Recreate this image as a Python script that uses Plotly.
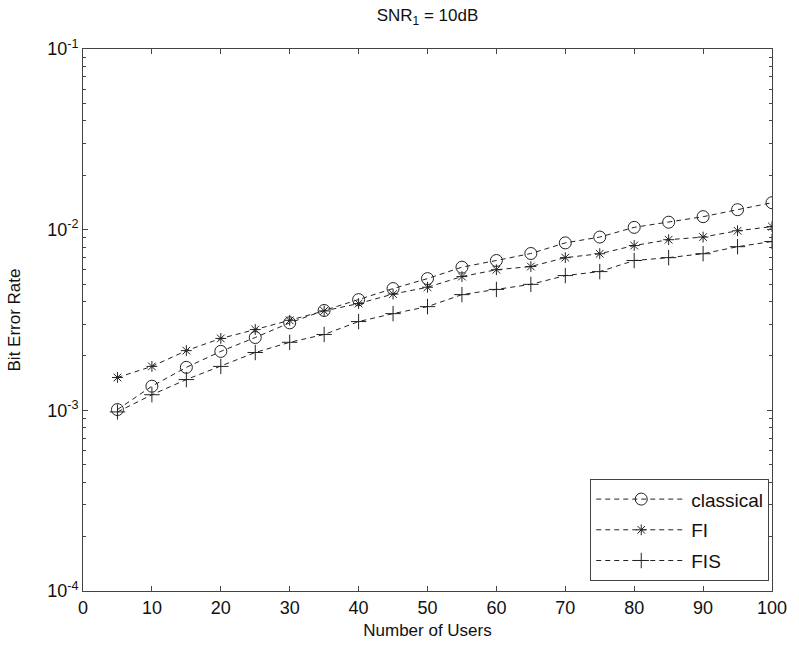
import plotly.graph_objects as go

users = [5, 10, 15, 20, 25, 30, 35, 40, 45, 50, 55, 60, 65, 70, 75, 80, 85, 90, 95, 100]
ber_classical = [1.01e-3, 1.36e-3, 1.73e-3, 2.12e-3, 2.53e-3, 3.05e-3, 3.57e-3, 4.1e-3, 4.72e-3, 5.36e-3,
                 6.2e-3, 6.75e-3, 7.38e-3, 8.45e-3, 9.1e-3, 1.03e-2, 1.1e-2, 1.18e-2, 1.29e-2, 1.41e-2]
ber_fi = [1.52e-3, 1.75e-3, 2.14e-3, 2.5e-3, 2.8e-3, 3.15e-3, 3.55e-3, 3.9e-3, 4.4e-3, 4.8e-3,
          5.5e-3, 6.0e-3, 6.25e-3, 7.0e-3, 7.36e-3, 8.17e-3, 8.8e-3, 9.1e-3, 9.86e-3, 1.04e-2]
ber_fis = [0.98e-3, 1.22e-3, 1.48e-3, 1.75e-3, 2.09e-3, 2.38e-3, 2.63e-3, 3.1e-3, 3.43e-3, 3.75e-3,
           4.37e-3, 4.67e-3, 4.98e-3, 5.57e-3, 5.86e-3, 6.75e-3, 7.0e-3, 7.36e-3, 8.05e-3, 8.6e-3]

x_ticks = [0, 10, 20, 30, 40, 50, 60, 70, 80, 90, 100]
y_ticks = [1e-4, 1e-3, 1e-2, 1e-1]
y_ticktext = ["10<sup>-4</sup>", "10<sup>-3</sup>", "10<sup>-2</sup>", "10<sup>-1</sup>"]
y_minor = [m * 10.0 ** e for e in (-4, -3, -2) for m in range(2, 10)]

FONT = "Liberation Sans, Arial, Helvetica, sans-serif"

fig = go.Figure()
series = [
    ("classical", ber_classical, "circle-open", 12),
    ("FI", ber_fi, "asterisk-open", 9),
    ("FIS", ber_fis, "cross-thin-open", 11),
]
for i, (name, vals, sym, size) in enumerate(series):
    fig.add_trace(go.Scatter(
        x=users, y=vals, name=name, mode="lines+markers", legendgroup=f"g{i}",
        line=dict(color="#222222", width=1, dash="5px,4px"),
        marker=dict(symbol=sym, size=size, color="#222222", line=dict(width=1, color="#222222")),
    ))

axis_common = dict(
    showline=True, linecolor="#444444", linewidth=1, mirror="ticks",
    ticks="inside", ticklen=5, tickcolor="#444444", showgrid=False, zeroline=False,
    tickfont=dict(family=FONT, size=18, color="#111111"),
)

fig.update_layout(
    width=799, height=651,
    margin=dict(l=83, r=21, t=49, b=60),
    paper_bgcolor="white", plot_bgcolor="white",
    title=dict(text="SNR<sub>1</sub> = 10dB", x=0.5, xref="paper", xanchor="center",
               y=1 - 15 / 651, yanchor="middle",
               font=dict(family=FONT, size=17, color="#111111")),
    font=dict(family=FONT, size=17, color="#111111"),
    xaxis=dict(range=[0, 100], tickvals=x_ticks,
               title=dict(text="Number of Users", font=dict(family=FONT, size=17), standoff=7),
               **axis_common),
    yaxis=dict(type="log", range=[-4, -1], tickvals=y_ticks, ticktext=y_ticktext,
               minor=dict(tickvals=y_minor, ticks="inside", ticklen=3, tickcolor="#444444"),
               title=dict(text="Bit Error Rate", font=dict(family=FONT, size=17), standoff=22),
               **axis_common),
    legend=dict(x=0.996, y=0.018, xanchor="right", yanchor="bottom",
                bgcolor="white", bordercolor="#444444", borderwidth=1,
                font=dict(family=FONT, size=19, color="#111111"),
                itemwidth=90, tracegroupgap=3, traceorder="grouped"),
    showlegend=True,
)

fig.write_html("out.html")
